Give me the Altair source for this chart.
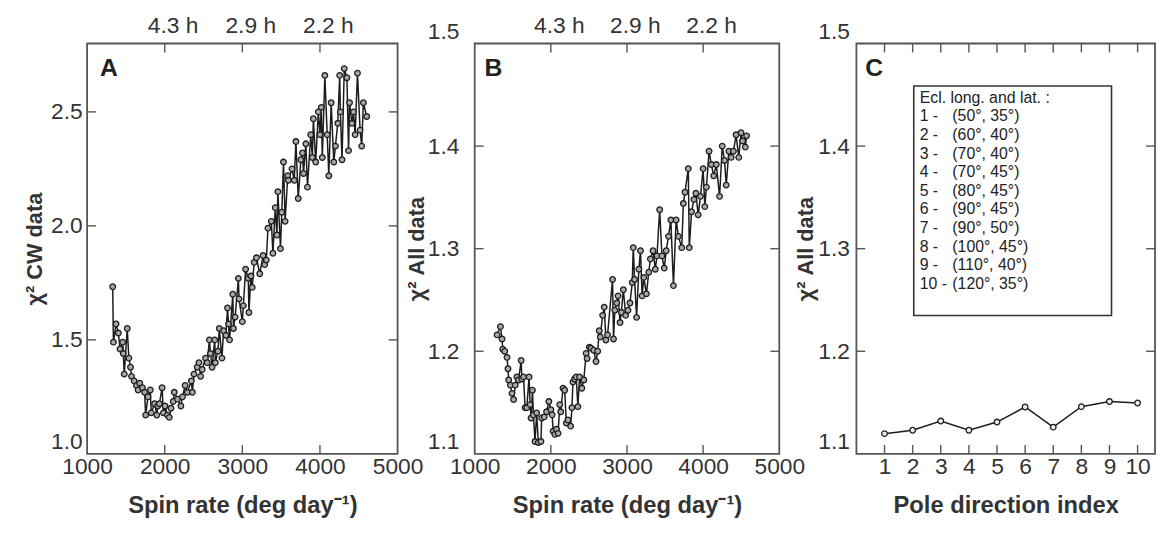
import altair as alt
import pandas as pd

# ---------------- data ----------------
spin_a = [1330, 1339, 1373, 1403, 1424, 1458, 1466, 1479, 1517, 1538, 1559, 1572, 1606, 1636, 1657,
          1678, 1712, 1741, 1754, 1784, 1814, 1826, 1869, 1898, 1911, 1932, 1966, 1983, 2004, 2034,
          2059, 2080, 2110, 2123, 2165, 2208, 2229, 2263, 2292, 2343, 2356, 2377, 2419, 2441, 2462,
          2483, 2525, 2547, 2576, 2589, 2610, 2644, 2652, 2686, 2703, 2737, 2758, 2788, 2809, 2822,
          2835, 2877, 2885, 2907, 2949, 2957, 3000, 3013, 3042, 3076, 3085, 3110, 3127, 3152, 3182,
          3224, 3267, 3288, 3309, 3330, 3373, 3394, 3424, 3445, 3458, 3491, 3508, 3530, 3551, 3585,
          3593, 3640, 3669, 3690, 3720, 3754, 3775, 3788, 3818, 3839, 3881, 3902, 3915, 3945, 3979,
          4000, 4017, 4030, 4063, 4093, 4114, 4144, 4178, 4199, 4229, 4254, 4263, 4284, 4313, 4347,
          4368, 4381, 4411, 4432, 4453, 4483, 4517, 4538, 4559, 4602]
chi2_cw = [1.733, 1.49, 1.57, 1.53, 1.46, 1.49, 1.44, 1.35, 1.55, 1.42, 1.38, 1.34, 1.32, 1.30, 1.28,
           1.31, 1.29, 1.27, 1.17, 1.25, 1.28, 1.18, 1.22, 1.17, 1.21, 1.22, 1.29, 1.18, 1.21, 1.17,
           1.16, 1.20, 1.23, 1.27, 1.24, 1.21, 1.25, 1.30, 1.27, 1.32, 1.27, 1.35, 1.38, 1.40, 1.34,
           1.37, 1.42, 1.40, 1.50, 1.44, 1.38, 1.50, 1.40, 1.45, 1.55, 1.42, 1.54, 1.52, 1.64, 1.57,
           1.50, 1.70, 1.55, 1.60, 1.77, 1.68, 1.58, 1.65, 1.81, 1.77, 1.62, 1.78, 1.73, 1.84, 1.86,
           1.79, 1.87, 1.83, 1.85, 1.99, 2.02, 1.88, 2.08, 1.96, 2.15, 1.90, 2.06, 2.28, 2.02, 2.22,
           2.20, 2.25, 2.20, 2.37, 2.12, 2.29, 2.32, 2.23, 2.36, 2.17, 2.40, 2.30, 2.47, 2.28, 2.50,
           2.40, 2.52, 2.30, 2.66, 2.40, 2.22, 2.54, 2.28, 2.35, 2.45, 2.66, 2.50, 2.29, 2.69, 2.65,
           2.33, 2.54, 2.45, 2.50, 2.40, 2.67, 2.42, 2.35, 2.54, 2.48]

spin_b = [1294, 1338, 1359, 1368, 1394, 1424, 1437, 1446, 1468, 1489, 1511, 1532, 1554, 1576, 1610,
          1619, 1641, 1662, 1684, 1714, 1727, 1740, 1758, 1771, 1792, 1814, 1835, 1870, 1879, 1913,
          1944, 1974, 2000, 2017, 2030, 2052, 2074, 2095, 2117, 2130, 2160, 2182, 2203, 2225, 2260,
          2277, 2290, 2312, 2333, 2355, 2377, 2407, 2433, 2463, 2476, 2506, 2528, 2563, 2593, 2615,
          2636, 2649, 2680, 2701, 2723, 2745, 2810, 2823, 2840, 2866, 2883, 2909, 2926, 2952, 2983,
          3013, 3039, 3069, 3082, 3100, 3126, 3156, 3177, 3199, 3221, 3255, 3286, 3307, 3342, 3372,
          3394, 3429, 3459, 3489, 3515, 3545, 3576, 3610, 3645, 3675, 3719, 3740, 3762, 3805, 3818,
          3848, 3879, 3905, 3935, 3965, 4000, 4022, 4043, 4078, 4108, 4139, 4173, 4216, 4251, 4281,
          4303, 4338, 4368, 4398, 4433, 4468, 4498, 4519, 4554, 4571]
chi2_all = [1.216, 1.224, 1.212, 1.202, 1.200, 1.194, 1.183, 1.172, 1.167, 1.159, 1.153, 1.167, 1.175,
            1.172, 1.191, 1.173, 1.175, 1.145, 1.145, 1.175, 1.148, 1.135, 1.162, 1.138, 1.112, 1.140,
            1.111, 1.112, 1.135, 1.136, 1.141, 1.151, 1.143, 1.138, 1.122, 1.119, 1.124, 1.120, 1.148,
            1.141, 1.164, 1.162, 1.130, 1.133, 1.127, 1.145, 1.170, 1.173, 1.175, 1.146, 1.175, 1.164,
            1.172, 1.198, 1.193, 1.204, 1.203, 1.201, 1.190, 1.200, 1.220, 1.214, 1.235, 1.243, 1.211,
            1.216, 1.270, 1.212, 1.240, 1.247, 1.254, 1.228, 1.238, 1.260, 1.235, 1.240, 1.247, 1.267,
            1.301, 1.270, 1.233, 1.280, 1.298, 1.254, 1.272, 1.256, 1.277, 1.290, 1.298, 1.280, 1.293,
            1.338, 1.293, 1.281, 1.298, 1.312, 1.328, 1.264, 1.328, 1.312, 1.301, 1.344, 1.355, 1.378,
            1.301, 1.336, 1.348, 1.354, 1.333, 1.351, 1.378, 1.341, 1.360, 1.395, 1.382, 1.371, 1.382,
            1.351, 1.400, 1.386, 1.362, 1.395, 1.389, 1.395, 1.411, 1.389, 1.413, 1.405, 1.399, 1.410]

pole_index = [1, 2, 3, 4, 5, 6, 7, 8, 9, 10]
chi2_pole = [1.1197, 1.123, 1.132, 1.123, 1.131, 1.1457, 1.126, 1.146, 1.151, 1.1496]

legend_head = "Ecl. long. and lat. :"
legend_nums = ["1 -", "2 -", "3 -", "4 -", "5 -", "6 -", "7 -", "8 -", "9 -", "10 -"]
legend_coords = ["(50°, 35°)", "(60°, 40°)", "(70°, 40°)", "(70°, 45°)", "(80°, 45°)",
                 "(90°, 45°)", "(90°, 50°)", "(100°, 45°)", "(110°, 40°)", "(120°, 35°)"]

spin_ticks = [1000, 2000, 3000, 4000, 5000]
period_ticks = [2000, 3000, 4000]
a_yticks = [1.0, 1.5, 2.0, 2.5]
b_yticks = [1.1, 1.2, 1.3, 1.4, 1.5]

# ---------------- style ----------------
FONT = "Liberation Sans"
AX = "#555555"
TXT = "#333333"
LINE = "#1c1c1c"
H = 415
TL = 9  # inward tick length
LFS = 23  # tick label font size


def panel(x, y, xdom, ydom, W, xvals, yvals, inner_x, inner_y, xtitle, ytitle,
          letter, letter_dx, top_labels, ylabpad, ytitlepad, xfmt, marker_fill):
    df = pd.DataFrame({"x": x, "y": y})
    xs = alt.Scale(domain=xdom, nice=False, zero=False)
    ys = alt.Scale(domain=ydom, nice=False, zero=False)
    end_test = f"datum.value <= {ydom[0] + 1e-6} || datum.value >= {ydom[1] - 1e-6}"
    xaxis = alt.Axis(orient="bottom", values=xvals, format=xfmt, title=xtitle, ticks=False,
                     domain=False, grid=False, labelPadding=2, titlePadding=15,
                     labelFlush=False, labelOverlap=False,
                     labelFontSize=LFS, titleFontSize=24, titleFontWeight="bold")
    yaxis = alt.Axis(orient="left", values=yvals, format=".1f", title=ytitle, ticks=False,
                     domain=False, grid=False, labelPadding=ylabpad, titlePadding=ytitlepad,
                     labelFlush=False, labelOverlap=False,
                     labelFontSize=LFS, titleFontSize=22, titleFontWeight="bold",
                     labelBaseline=alt.condition(end_test, alt.value("bottom"), alt.value("middle")))
    line = alt.Chart(df).mark_line(color=LINE, strokeWidth=1.5).encode(
        x=alt.X("x:Q", scale=xs, axis=xaxis),
        y=alt.Y("y:Q", scale=ys, axis=yaxis),
    )
    pts = alt.Chart(df).mark_point(shape="circle", filled=True, fill=marker_fill, stroke=LINE,
                                   strokeWidth=1.3, size=32, opacity=1).encode(
        x=alt.X("x:Q", scale=xs, axis=None),
        y=alt.Y("y:Q", scale=ys, axis=None),
    )
    tx = pd.DataFrame({"v": inner_x})
    ty = pd.DataFrame({"v": inner_y})
    if top_labels:
        top_axis = alt.Axis(orient="top", values=period_ticks, title=None, ticks=False,
                            domain=False, grid=False, labelPadding=6, labelOffset=8,
                            labelFlush=False, labelOverlap=False, labelFontSize=LFS,
                            labelExpr="format(360 / datum.value * 24, '.1f') + ' h'")
    else:
        top_axis = None
    top = alt.Chart(tx).mark_rule(color=AX, strokeWidth=1.4).encode(
        x=alt.X("v:Q", scale=xs, axis=top_axis), y=alt.value(0), y2=alt.value(TL))
    bot = alt.Chart(tx).mark_rule(color=AX, strokeWidth=1.4).encode(
        x=alt.X("v:Q", scale=xs, axis=None), y=alt.value(H - TL), y2=alt.value(H))
    left = alt.Chart(ty).mark_rule(color=AX, strokeWidth=1.4).encode(
        y=alt.Y("v:Q", scale=ys, axis=None), x=alt.value(0), x2=alt.value(TL))
    right = alt.Chart(ty).mark_rule(color=AX, strokeWidth=1.4).encode(
        y=alt.Y("v:Q", scale=ys, axis=None), x=alt.value(W - TL), x2=alt.value(W))
    lab = alt.Chart(pd.DataFrame({"t": [letter]})).mark_text(
        align="left", baseline="alphabetic", fontSize=25, fontWeight="bold", color="#222", font=FONT
    ).encode(x=alt.value(letter_dx), y=alt.value(33), text="t:N")
    return [line, pts, top, bot, left, right, lab], W


la, wa = panel(spin_a, chi2_cw, [1000, 5000], [1.0, 2.8], 314, spin_ticks, a_yticks,
               [2000, 3000, 4000], [1.5, 2.0, 2.5], "Spin rate (deg day⁻¹)", "χ² CW data",
               "A", 13, True, 5, 4, "d", "#a8a8a8")
pa = alt.layer(*la).resolve_axis(x="independent", y="independent").properties(width=wa, height=H)

lb, wb = panel(spin_b, chi2_all, [1000, 5000], [1.1, 1.5], 308, spin_ticks, b_yticks,
               [2000, 3000, 4000], [1.2, 1.3, 1.4], "Spin rate (deg day⁻¹)", "χ² All data",
               "B", 10, True, 16, -1, "d", "#a8a8a8")
pb = alt.layer(*lb).resolve_axis(x="independent", y="independent").properties(width=wb, height=H)

lc, wc = panel(pole_index, chi2_pole, [0, 10.62], [1.1, 1.5], 302, pole_index, b_yticks,
               pole_index, [1.2, 1.3, 1.4], "Pole direction index", "χ² All data",
               "C", 9, False, 7, 0, "d", "#ededed")
box = alt.Chart(pd.DataFrame({"a": [0]})).mark_rect(fill="white", stroke="#333", strokeWidth=1.6).encode(
    x=alt.value(58), x2=alt.value(258), y=alt.value(43), y2=alt.value(275))
col1 = alt.Chart(pd.DataFrame({"a": [0]})).mark_text(
    align="left", baseline="top", fontSize=16, lineHeight=18.8, color="#222", font=FONT,
    text=[legend_head] + legend_nums).encode(x=alt.value(64), y=alt.value(47))
col2 = alt.Chart(pd.DataFrame({"a": [0]})).mark_text(
    align="left", baseline="top", fontSize=16, lineHeight=18.8, color="#222", font=FONT,
    text=legend_coords).encode(x=alt.value(97), y=alt.value(47 + 18.8))
pc = alt.layer(*lc, box, col1, col2).resolve_axis(x="independent", y="independent").properties(
    width=wc, height=H)

chart = alt.hconcat(pa, pb, pc, spacing=78, bounds="flush").properties(
    padding={"left": 15, "top": 3, "right": 0, "bottom": 0}
).configure(font=FONT).configure_view(
    stroke=AX, strokeWidth=1.8
).configure_axis(
    labelColor=TXT, titleColor=TXT, labelFont=FONT, titleFont=FONT
)

chart.save("out.html", embed_options={"renderer": "svg", "actions": False})
